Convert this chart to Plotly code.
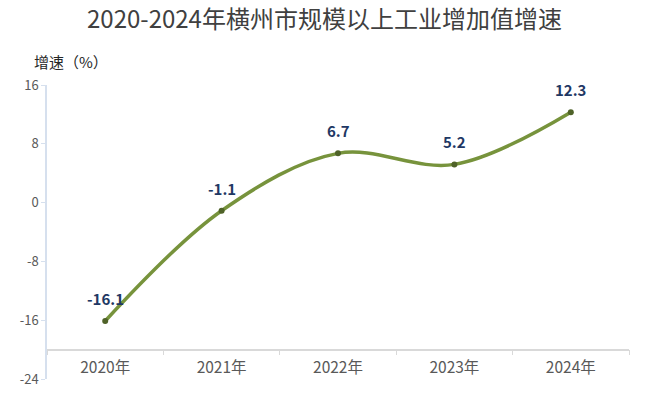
import plotly.graph_objects as go

years = ["2020年", "2021年", "2022年", "2023年", "2024年"]
growth = [-16.1, -1.1, 6.7, 5.2, 12.3]
labels = ["-16.1", "-1.1", "6.7", "5.2", "12.3"]
y_ticks = [16, 8, 0, -8, -16, -24]

font_cjk = "Microsoft YaHei, Noto Sans CJK SC, sans-serif"

fig = go.Figure()
fig.add_trace(go.Scatter(
    x=years, y=growth, mode="lines+markers",
    line=dict(color="#77933c", width=3.5, shape="spline", smoothing=1.0),
    marker=dict(color="#4f6228", size=6),
    cliponaxis=False, showlegend=False, hoverinfo="skip",
))

annotations = [
    dict(x=xv, y=yv, text=f"<b>{t}</b>", xref="x", yref="y", showarrow=False,
         yshift=22.5, xanchor="center", yanchor="middle",
         font=dict(family=font_cjk, size=15, color="#1f3864"))
    for xv, yv, t in zip(years, growth, labels)
]
annotations.append(dict(
    text="增速（%）", xref="paper", yref="paper", x=-0.025, y=1.0, yshift=24,
    xanchor="left", yanchor="middle", showarrow=False,
    font=dict(family=font_cjk, size=15, color="#262626"),
))

fig.update_layout(
    width=649, height=398,
    margin=dict(l=47, r=20, t=85, b=19, autoexpand=False),
    paper_bgcolor="white", plot_bgcolor="white",
    title=dict(text="2020-2024年横州市规模以上工业增加值增速", x=0.5, xanchor="center",
               y=0.952, yanchor="middle",
               font=dict(family=font_cjk, size=24, color="#404040")),
    xaxis=dict(
        type="category", anchor="free", position=0.1, automargin=False,
        showline=True, linecolor="#d9d9d9", linewidth=1.5,
        ticks="outside", tickson="boundaries", ticklen=5, tickcolor="#d9d9d9",
        ticklabelstandoff=4,
        showgrid=False, zeroline=False,
        tickfont=dict(family=font_cjk, size=15.5, color="#595959"),
        range=[-0.5, 4.5],
    ),
    yaxis=dict(
        range=[-24, 16], tickvals=y_ticks, ticktext=[str(v) for v in y_ticks],
        automargin=False,
        showline=True, linecolor="#d6e0ee", linewidth=1.5,
        ticks="outside", ticklen=4, tickcolor="#d6e0ee",
        showgrid=False, zeroline=False,
        tickfont=dict(family=font_cjk, size=13, color="#595959"),
    ),
    annotations=annotations,
)

fig.write_html("out.html", config={"displayModeBar": False},
               post_script="document.body.style.margin='0';")
